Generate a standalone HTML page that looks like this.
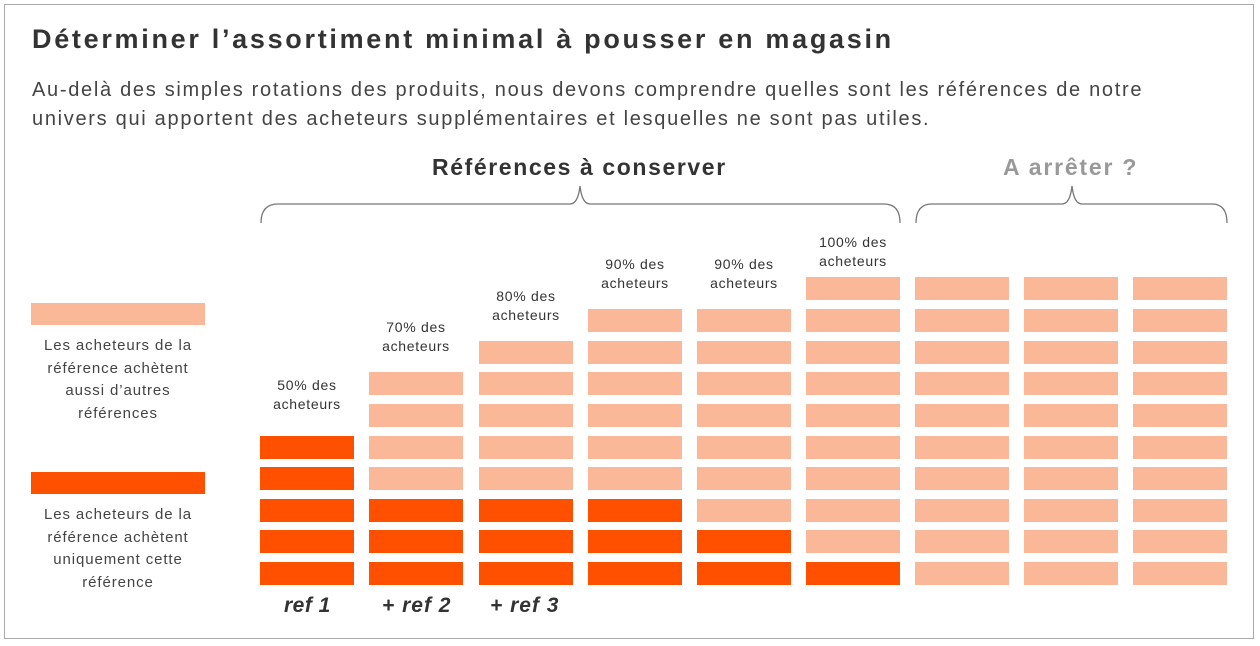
<!DOCTYPE html><html><head><style>
body{margin:0;width:1260px;height:646px;background:#fff;font-family:"Liberation Sans",sans-serif;position:relative;overflow:hidden}
.frame{position:absolute;left:4px;top:4px;width:1250px;height:635px;border:1px solid #aaa;box-sizing:border-box}
.t{position:absolute;color:#333;white-space:nowrap}
.b{position:absolute;width:94px;height:23px}
.l{background:#fbb898}.d{background:#ff5000}
.c{text-align:center;font-size:14px;line-height:19px;color:#333;position:absolute;width:120px;letter-spacing:0.7px}
.lg{text-align:center;font-size:15px;line-height:22.5px;color:#444;position:absolute;width:220px;letter-spacing:0.9px}
</style></head><body>
<div class="frame"></div>
<div class="t" style="left:32px;top:24px;font-size:27px;font-weight:bold;color:#333;letter-spacing:2.7px">Déterminer l’assortiment minimal à pousser en magasin</div>
<div class="t" style="left:32px;top:76px;font-size:20px;line-height:29px;color:#444;letter-spacing:1.7px">Au-delà des simples rotations des produits, nous devons comprendre quelles sont les références de notre<br>univers qui apportent des acheteurs supplémentaires et lesquelles ne sont pas utiles.</div>
<div class="t" style="left:432px;top:154px;font-size:23px;font-weight:bold;color:#333;letter-spacing:1.6px">Références à conserver</div>
<div class="t" style="left:1003px;top:154px;font-size:23px;font-weight:bold;color:#999;letter-spacing:1.8px">A arrêter ?</div>
<svg style="position:absolute;left:0;top:0" width="1260" height="646"><g fill="none" stroke="#777" stroke-width="1.3">
<path d="M261,223 Q261,204 278,204 L570,204 Q578,204 580,186 Q582,204 590,204 L884,204 Q900,204 900,223"/>
<path d="M916,223 Q916,204 932,204 L1062,204 Q1070,204 1072,186 Q1074,204 1082,204 L1212,204 Q1227,204 1227,223"/></g></svg>
<div class="b l" style="left:31px;top:303px;width:174px;height:22px"></div>
<div class="lg" style="left:8px;top:335px">Les acheteurs de la<br>référence achètent<br>aussi d’autres<br>références</div>
<div class="b d" style="left:31px;top:472px;width:174px;height:22px"></div>
<div class="lg" style="left:8px;top:504px">Les acheteurs de la<br>référence achètent<br>uniquement cette<br>référence</div>
<div id="g"></div>
<div class="c" style="left:247px;top:376px">50% des<br>acheteurs</div>
<div class="c" style="left:356px;top:318px">70% des<br>acheteurs</div>
<div class="c" style="left:466px;top:287px">80% des<br>acheteurs</div>
<div class="c" style="left:575px;top:255px">90% des<br>acheteurs</div>
<div class="c" style="left:684px;top:255px">90% des<br>acheteurs</div>
<div class="c" style="left:793px;top:233px">100% des<br>acheteurs</div>
<div class="t" style="left:284px;top:594px;font-size:21px;font-weight:bold;font-style:italic;letter-spacing:0.5px">ref 1</div>
<div class="t" style="left:382px;top:594px;font-size:21px;font-weight:bold;font-style:italic;letter-spacing:1px">+ ref 2</div>
<div class="t" style="left:490px;top:594px;font-size:21px;font-weight:bold;font-style:italic;letter-spacing:1px">+ ref 3</div>
<script>
var xs=[260,369,479,588,697,806,915,1024,1133],ys=[277,309,341,372,404,436,467,499,530,562];
var start=[5,3,2,1,1,0,0,0,0],dark=[5,7,7,7,8,9,10,10,10],h='';
for(var c=0;c<9;c++)for(var r=start[c];r<10;r++)h+='<div class="b '+(r>=dark[c]?'d':'l')+'" style="left:'+xs[c]+'px;top:'+ys[r]+'px"></div>';
document.getElementById('g').innerHTML=h;
</script>
</body></html>
